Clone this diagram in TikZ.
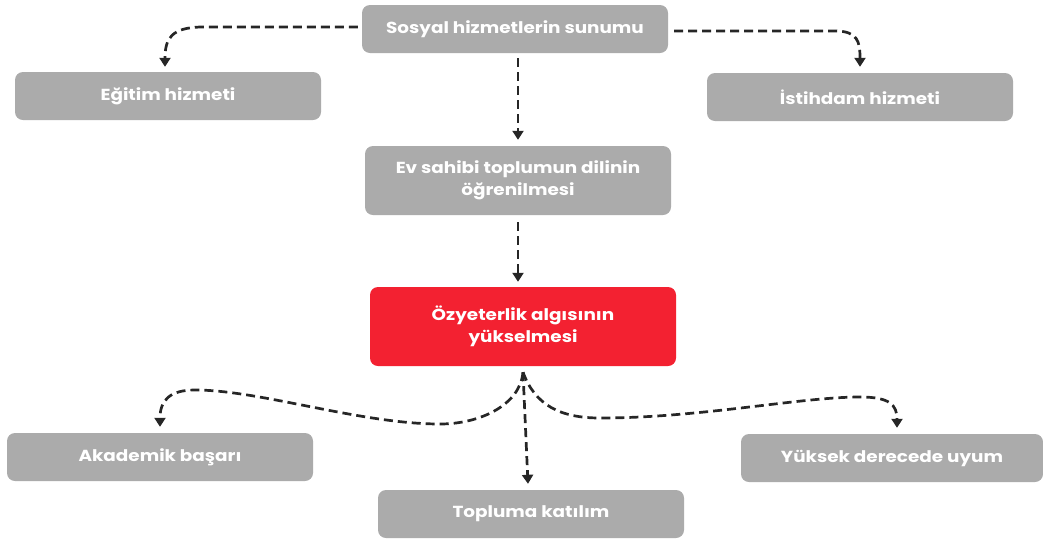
\documentclass[tikz,border=0pt]{standalone}
\usepackage{fontspec}
\setmainfont{Poppins}[FakeStretch=1.15]
\usetikzlibrary{arrows.meta}
\definecolor{boxgrey}{HTML}{ABABAB}
\definecolor{boxred}{HTML}{F32131}
\definecolor{linedark}{HTML}{262626}
\tikzset{
  box/.style={rectangle, rounded corners=8pt, fill=boxgrey, minimum width=306pt,
    minimum height=48pt, text=white, align=center, inner sep=0pt,
    font=\fontsize{16}{22.5}\selectfont\bfseries},
  redbox/.style={box, fill=boxred},
  conn/.style={draw=linedark, line width=2.7pt, dash pattern=on 9pt off 5pt,
    -{Triangle[length=9pt,width=11pt]}},
}
\begin{document}
\begin{tikzpicture}[x=1pt,y=-1pt]
\useasboundingbox (0,0) rectangle (1043,539);
\node[box] (sos) at (515,29) {Sosyal hizmetlerin sunumu};
\node[box] (edu) at (168,96) {Eğitim hizmeti};
\node[box] (ist) at (860,97) {İstihdam hizmeti};
\node[box, minimum height=69pt] (ev) at (518,180.5) {Ev sahibi toplumun dilinin\\öğrenilmesi};
\node[redbox, minimum height=79pt] (oz) at (523,326.5) {Özyeterlik algısının\\yükselmesi};
\node[box] (ak) at (160,457) {Akademik başarı};
\node[box] (top) at (531,514) {Topluma katılım};
\node[box, minimum width=302pt] (yuk) at (892,458) {Yüksek derecede uyum};
\coordinate (hub) at ([yshift=-6pt]oz.south);
% top branches
\draw[conn] ([xshift=-4pt,yshift=2pt]sos.west) -- (200,27) .. controls (172,28) and (165,38) .. ([xshift=-3pt,yshift=5pt]edu.north);
\draw[conn] ([xshift=6pt,yshift=-2pt]sos.east) -- (835,31) .. controls (858,31) and (860,42) .. ([yshift=6pt]ist.north);
\draw[conn] ([yshift=-5pt]sos.south -| ev.north) -- ([yshift=6pt]ev.north);
\draw[conn] ([yshift=-7pt]ev.south) -- ([yshift=5pt]ev.south |- oz.north);
% bottom branches
\draw[conn] (hub) .. controls (520,405) and (480,424) .. (440,424) .. controls (360,424) and (260,390) .. (195,390) .. controls (170,390) and (160,400) .. ([yshift=6pt]ak.north);
\draw[conn] (hub) .. controls (535,405) and (560,418) .. (600,418) .. controls (700,418) and (800,397) .. (860,397) .. controls (890,397) and (897,405) .. ([xshift=5pt,yshift=6pt]yuk.north);
\draw[conn] (hub) -- ([xshift=-3pt,yshift=6pt]top.north);
\end{tikzpicture}
\end{document}
